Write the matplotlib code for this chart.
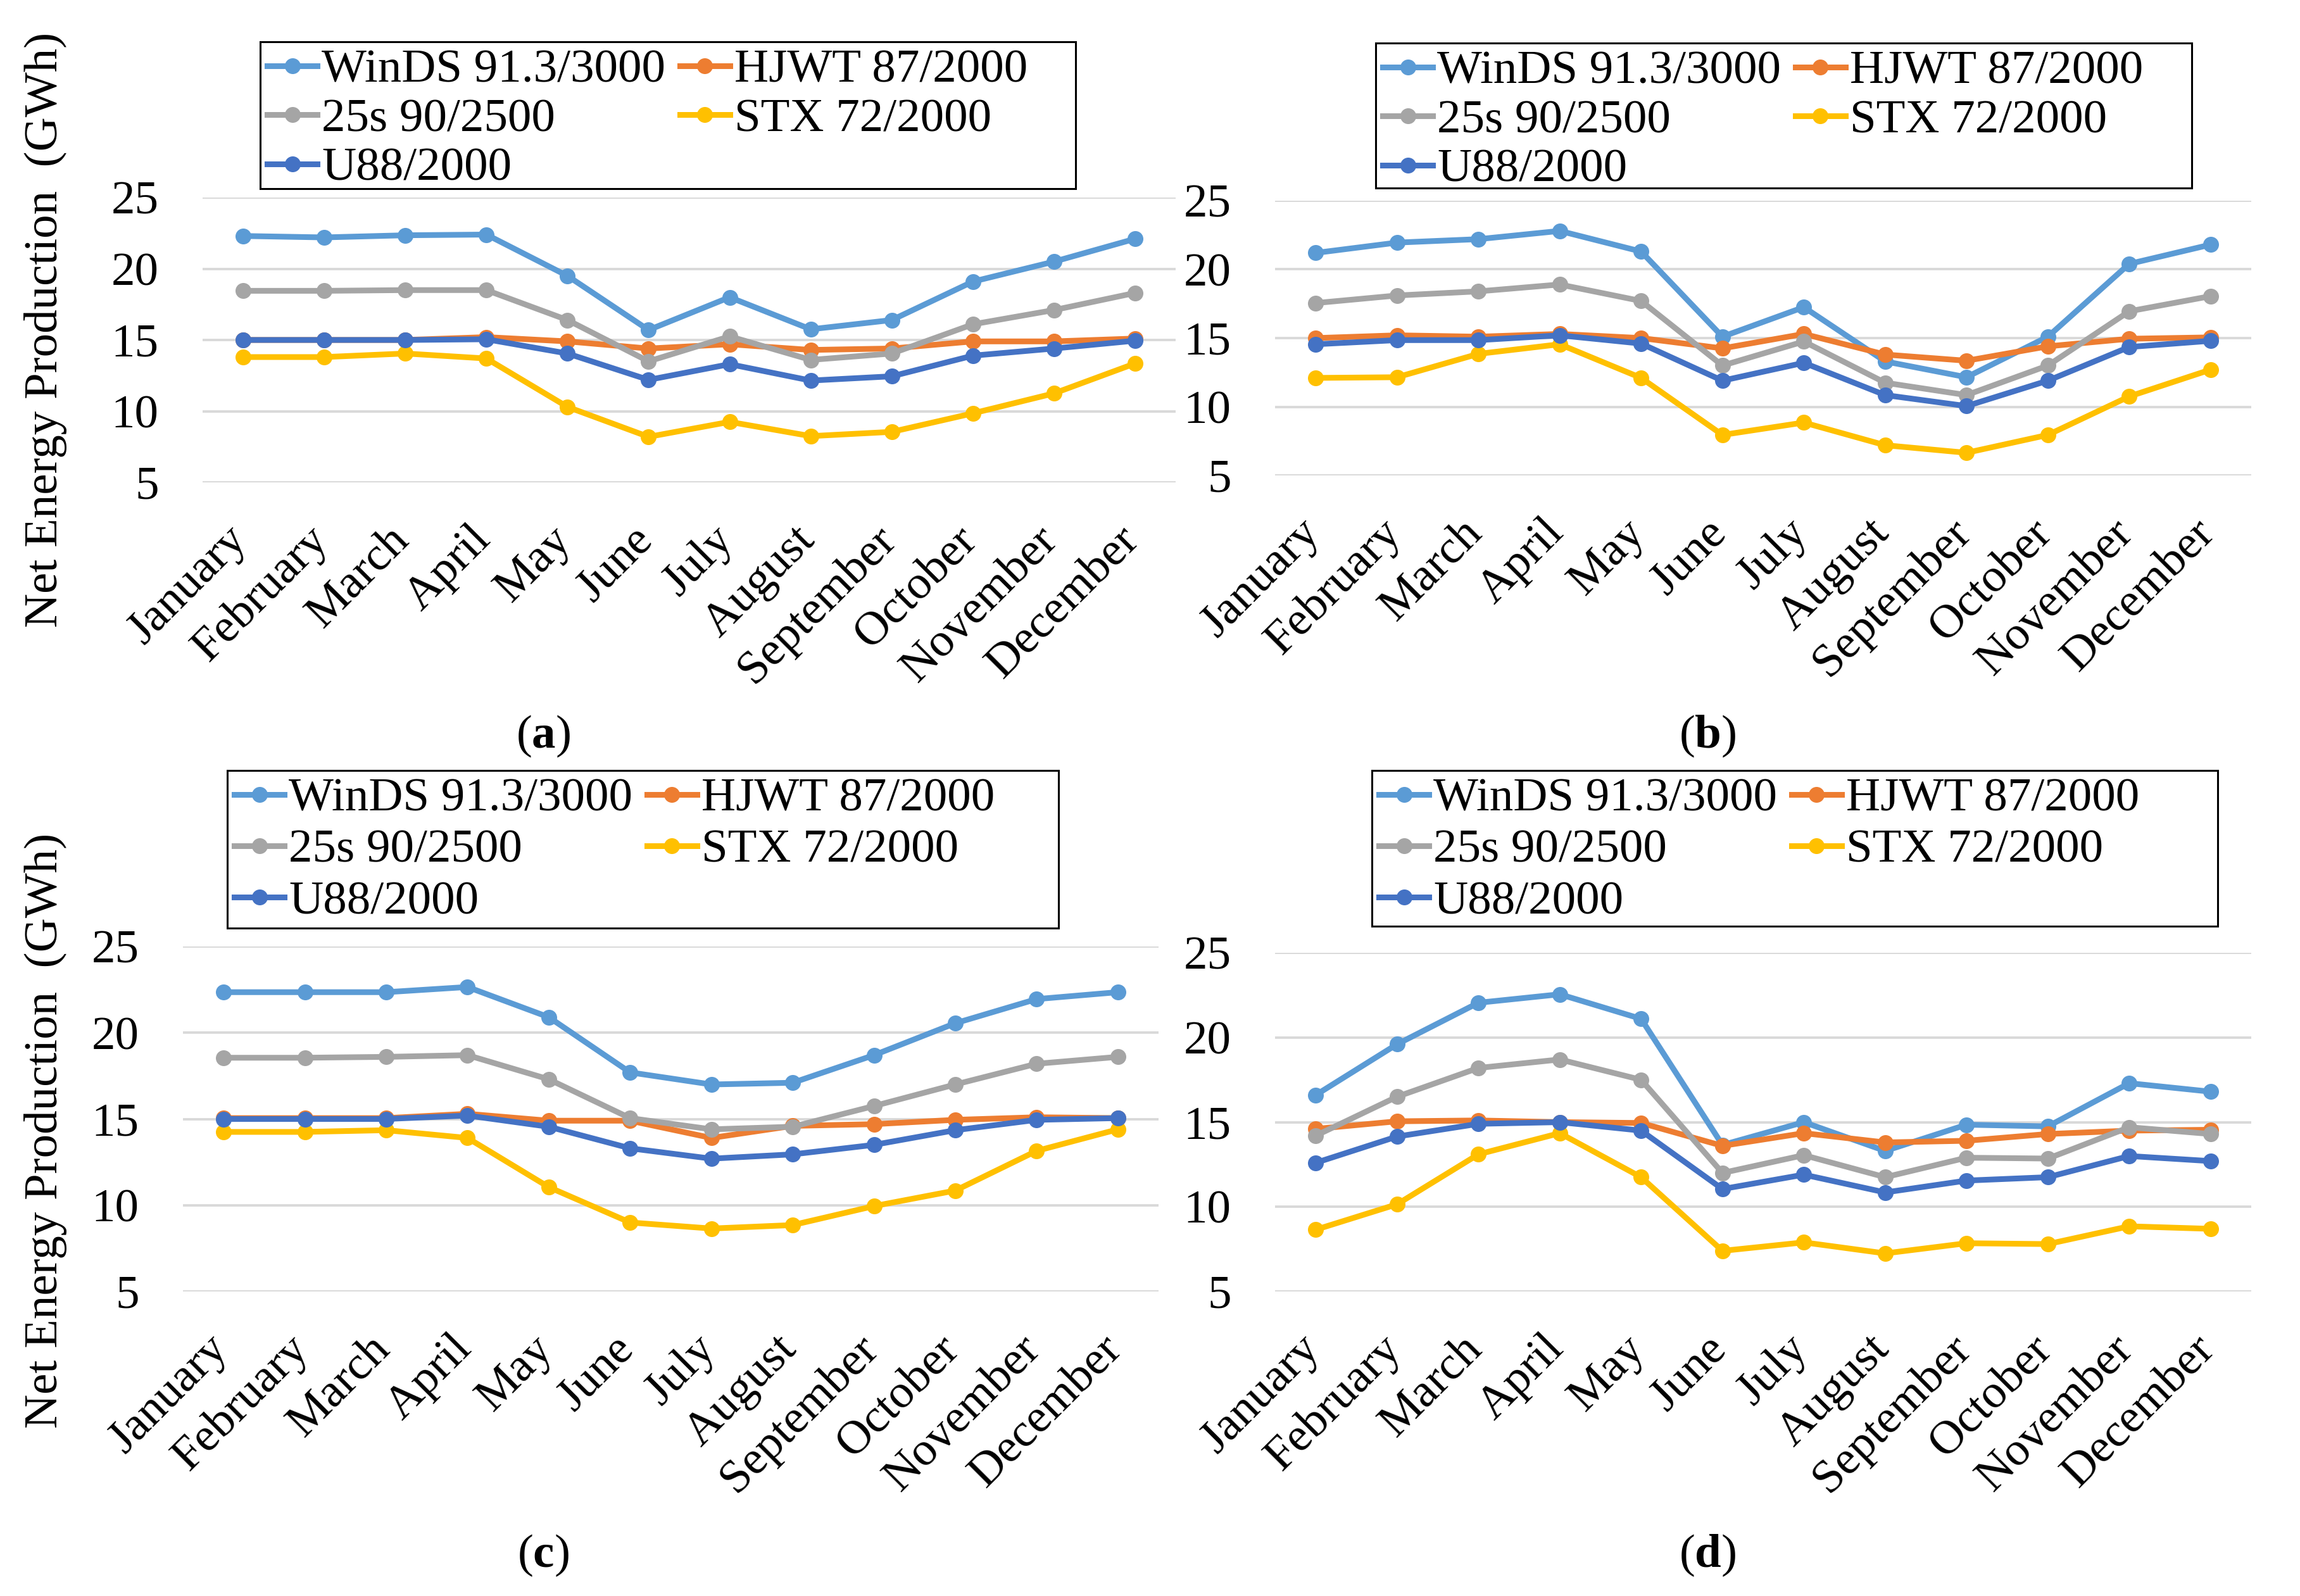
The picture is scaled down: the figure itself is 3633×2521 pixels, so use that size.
import matplotlib
matplotlib.use("Agg")
import matplotlib.pyplot as plt
from matplotlib.patches import Rectangle
from matplotlib.transforms import ScaledTranslation

plt.rcParams['font.family'] = ['Liberation Serif', 'DejaVu Serif']
plt.rcParams['mathtext.fontset'] = 'custom'
plt.rcParams['mathtext.rm'] = 'Liberation Serif'
plt.rcParams['mathtext.bf'] = 'Liberation Serif:bold'

# dane (GWh)
months = ["January", "February", "March", "April", "May", "June", "July",
          "August", "September", "October", "November", "December"]
names = ["WinDS 91.3/3000", "HJWT 87/2000", "25s 90/2500", "STX 72/2000", "U88/2000"]
colors = ["#5B9BD5", "#ED7D31", "#A5A5A5", "#FFC000", "#4472C4"]

a_winds = [22.3, 22.2, 22.35, 22.4, 19.5, 15.7, 18.0, 15.75, 16.4, 19.1, 20.5, 22.1]
a_hjwt = [15.0, 15.0, 15.0, 15.2, 14.9, 14.4, 14.7, 14.3, 14.4, 14.9, 14.9, 15.1]
a_25s = [18.45, 18.45, 18.5, 18.5, 16.4, 13.5, 15.25, 13.6, 14.05, 16.1, 17.1, 18.3]
a_stx = [13.8, 13.8, 14.05, 13.7, 10.3, 8.2, 9.25, 8.25, 8.55, 9.85, 11.25, 13.35]
a_u88 = [15.0, 15.0, 15.0, 15.05, 14.05, 12.2, 13.3, 12.15, 12.45, 13.9, 14.4, 14.95]

b_winds = [21.2, 21.95, 22.2, 22.8, 21.3, 15.1, 17.25, 13.3, 12.15, 15.1, 20.4, 21.8]
b_hjwt = [15.0, 15.2, 15.1, 15.3, 15.0, 14.25, 15.3, 13.8, 13.35, 14.4, 14.95, 15.05]
b_25s = [17.55, 18.1, 18.4, 18.9, 17.7, 13.0, 14.75, 11.75, 10.85, 13.0, 16.95, 18.05]
b_stx = [12.1, 12.15, 13.85, 14.55, 12.1, 7.95, 8.85, 7.2, 6.65, 7.95, 10.75, 12.7]
b_u88 = [14.55, 14.85, 14.85, 15.2, 14.6, 11.9, 13.2, 10.85, 10.05, 11.9, 14.35, 14.8]

c_winds = [22.35, 22.35, 22.35, 22.65, 20.9, 17.7, 17.0, 17.1, 18.7, 20.55, 21.95, 22.35]
c_hjwt = [15.05, 15.05, 15.05, 15.3, 14.9, 14.9, 13.9, 14.6, 14.7, 14.95, 15.1, 15.05]
c_25s = [18.55, 18.55, 18.6, 18.7, 17.3, 15.05, 14.4, 14.55, 15.75, 17.0, 18.2, 18.6]
c_stx = [14.25, 14.25, 14.35, 13.9, 11.05, 9.0, 8.65, 8.85, 9.95, 10.85, 13.15, 14.4]
c_u88 = [15.0, 15.0, 15.0, 15.2, 14.55, 13.3, 12.7, 12.95, 13.5, 14.35, 14.95, 15.05]

d_winds = [16.6, 19.6, 22.05, 22.55, 21.1, 13.65, 15.0, 13.3, 14.85, 14.75, 17.3, 16.8]
d_hjwt = [14.6, 15.05, 15.1, 15.0, 14.95, 13.6, 14.35, 13.8, 13.9, 14.3, 14.5, 14.55]
d_25s = [14.2, 16.5, 18.2, 18.7, 17.5, 12.0, 13.05, 11.75, 12.9, 12.85, 14.7, 14.3]
d_stx = [8.65, 10.15, 13.1, 14.35, 11.75, 7.4, 7.9, 7.25, 7.85, 7.8, 8.85, 8.7]
d_u88 = [12.6, 14.15, 14.9, 15.0, 14.5, 11.05, 11.9, 10.85, 11.55, 11.75, 13.0, 12.7]

panels = [
    ("a", [a_winds, a_hjwt, a_25s, a_stx, a_u88]),
    ("b", [b_winds, b_hjwt, b_25s, b_stx, b_u88]),
    ("c", [c_winds, c_hjwt, c_25s, c_stx, c_u88]),
    ("d", [d_winds, d_hjwt, d_25s, d_stx, d_u88]),
]

W, H = 3633, 2521
fig = plt.figure(figsize=(W / 100, H / 100), dpi=100)

# polozenie osi i legend w pikselach (lewo, gora, prawo, dol)
ax_box = {"a": (320, 312, 1857, 762), "b": (2014, 317, 3556, 751),
          "c": (289, 1495, 1830, 2040), "d": (2014, 1505, 3556, 2040)}
leg_box = {"a": (411, 66, 1699, 298), "b": (2173, 68, 3462, 297),
           "c": (359, 1217, 1672, 1466), "d": (2167, 1217, 3503, 1463)}
leg_sp = {"a": 0.12, "b": 0.12, "c": 0.17, "d": 0.17}
lab_pos = {"a": (858, 1163), "b": (2697, 1163), "c": (858, 2457), "d": (2697, 2457)}

fs = 54
for key, series in panels:
    l, t, r, b = ax_box[key]
    ax = fig.add_axes([l / W, 1 - b / H, (r - l) / W, (b - t) / H])
    lines = []
    for vals, name, col in zip(series, names, colors):
        ln, = ax.plot(range(len(months)), vals, color=col, lw=6.5, marker="o",
                      ms=17, label=name, clip_on=False, solid_joinstyle="round")
        lines.append(ln)
    ax.set_xlim(-0.5, len(months) - 0.5)
    ax.set_ylim(5, 25)
    ax.set_yticks([5, 10, 15, 20, 25])
    ax.set_xticks(range(len(months)))
    ax.tick_params(axis="both", length=0, labelsize=fs)
    ax.tick_params(axis="y", pad=50)
    ax.tick_params(axis="x", pad=30)
    ax.set_xticklabels(months, rotation=45, ha="right", rotation_mode="anchor")
    # przesuniecie etykiet miesiecy w lewo i w dol
    shift = ScaledTranslation(-0.28, -0.15, fig.dpi_scale_trans)
    for lab in ax.xaxis.get_majorticklabels():
        lab.set_transform(lab.get_transform() + shift)
    ax.grid(axis="y", color="#D9D9D9", lw=2.8)
    ax.set_axisbelow(True)
    for s in ax.spines.values():
        s.set_visible(False)

    # ramka legendy rysowana osobno (stały rozmiar jak w Excelu)
    lx0, ly0, lx1, ly1 = leg_box[key]
    fig.patches.append(Rectangle((lx0 / W, 1 - ly1 / H), (lx1 - lx0) / W, (ly1 - ly0) / H,
                                 transform=fig.transFigure, fill=False,
                                 edgecolor="black", lw=2.2, zorder=5))
    order = [0, 2, 4, 1, 3]
    ax.legend([lines[i] for i in order], [names[i] for i in order],
              ncol=2, loc="upper left",
              bbox_to_anchor=(lx0 / W, 1 - ly0 / H),
              bbox_transform=fig.transFigure,
              fontsize=fs, frameon=False,
              handlelength=1.05, handletextpad=0.1, columnspacing=0.3,
              labelspacing=leg_sp[key], borderpad=0.15, borderaxespad=0)

    px, py = lab_pos[key]
    fig.text(px / W, 1 - py / H, r"($\mathbf{%s}$)" % key, fontsize=fs,
             ha="center", va="center")

for yc in (521, 1786):
    fig.text(72 / W, 1 - yc / H, "Net Energy Production  (GWh)", rotation=90,
             fontsize=fs, ha="center", va="center")

fig.savefig("out.png", dpi=100)
